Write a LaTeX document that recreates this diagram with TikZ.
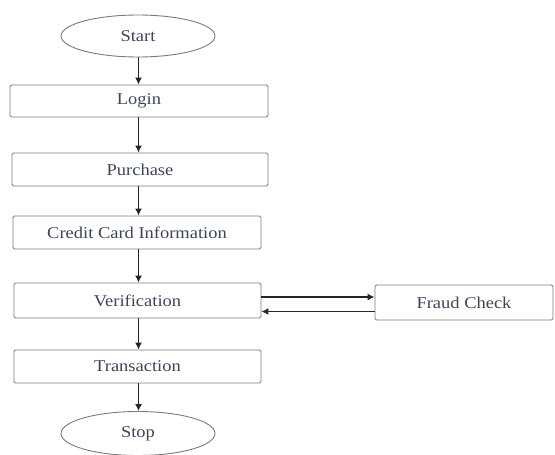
\documentclass[tikz,border=0pt]{standalone}
\usepackage{fontspec}
\setmainfont{Liberation Serif}[FakeStretch=1.12]
\usetikzlibrary{shapes.geometric,arrows.meta}
\definecolor{inktext}{HTML}{3C4458}
\definecolor{boxline}{HTML}{7A7A7A}
\tikzset{
  every node/.style={font=\fontsize{16.5}{19}\selectfont, text=inktext},
  stepbox/.style={draw=boxline, line width=0.9pt, rounded corners=1.5pt, inner sep=0pt},
  terminal/.style={draw=boxline, line width=0.9pt, ellipse, inner sep=0pt},
  flow/.style={draw=black!85, line width=1.3pt, -{Latex[length=7pt,width=7pt]}},
}
\begin{document}
\begin{tikzpicture}[x=1pt,y=-1pt]
  \useasboundingbox (0,0) rectangle (555,455);
  % main column
  \node[terminal, minimum width=154pt, minimum height=42pt] (start) at (138,36) {Start};
  \node[stepbox, minimum width=258pt, minimum height=32pt] (login) at (139,101) {Login};
  \node[stepbox, minimum width=256pt, minimum height=33pt] (purchase) at (140,169.5) {Purchase};
  \node[stepbox, minimum width=248pt, minimum height=33pt] (card) at (137,232.5) {Credit Card Information};
  \node[stepbox, minimum width=247pt, minimum height=35pt] (verify) at (137.5,300.5) {Verification};
  \node[stepbox, minimum width=247pt, minimum height=33pt] (trans) at (137.5,366.5) {Transaction};
  \node[terminal, minimum width=154pt, minimum height=44pt] (stop) at (138,433.5) {Stop};
  % side branch
  \node[stepbox, minimum width=178pt, minimum height=35pt] (fraud) at (464,302.5) {Fraud Check};

  % the spine all vertical arrows follow
  \coordinate (spine) at (138.5,0);

  % vertical connectors
  \draw[flow] (start.south -| spine) -- (login.north -| spine);
  \draw[flow] (login.south -| spine) -- (purchase.north -| spine);
  \draw[flow] (purchase.south -| spine) -- (card.north -| spine);
  \draw[flow] (card.south -| spine) -- (verify.north -| spine);
  \draw[flow] (verify.south -| spine) -- (trans.north -| spine);
  \draw[flow] (trans.south -| spine) -- (stop.north -| spine);

  % verification <-> fraud check
  \draw[flow] ([yshift=3.5pt]verify.east) -- ([yshift=3.5pt]verify.east -| fraud.west);
  \draw[flow] ([yshift=-9pt]fraud.west) -- ([yshift=-9pt]fraud.west -| verify.east);
\end{tikzpicture}
\end{document}
